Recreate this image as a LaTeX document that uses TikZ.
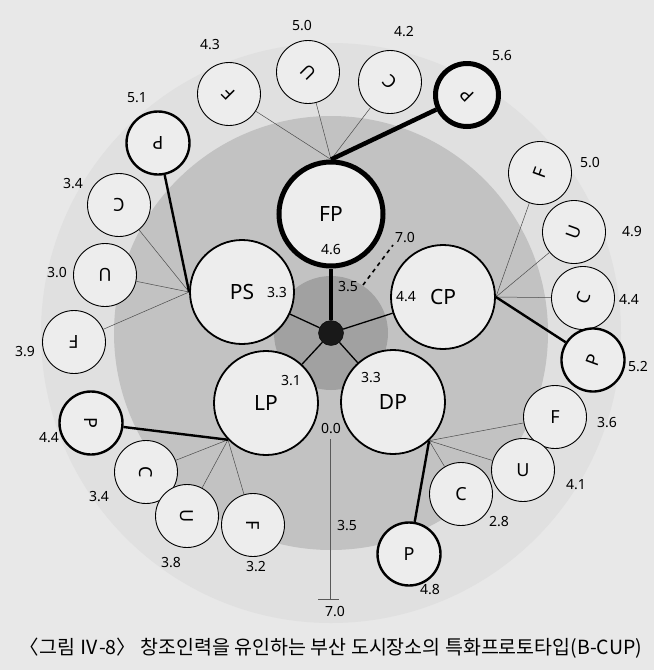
\documentclass[tikz,border=0pt]{standalone}
\usepackage{fontspec}
\setmainfont{Noto Sans}
\newfontfamily\krfont{Noto Sans CJK KR}
\definecolor{paper}{gray}{0.91}
\definecolor{outerring}{gray}{0.88}
\definecolor{midring}{gray}{0.76}
\definecolor{innerring}{gray}{0.63}
\definecolor{nodefill}{gray}{0.93}
\begin{document}
\begin{tikzpicture}[x=1pt, y=-1pt, every node/.style={font=\fontsize{14}{16}\selectfont},
    big/.style={circle, draw, line width=1.8pt, fill=nodefill, minimum size=104pt, inner sep=0pt, font=\fontsize{21}{24}\selectfont},
    small/.style={circle, draw, line width=0.9pt, fill=nodefill, minimum size=63pt, inner sep=0pt, font=\fontsize{18}{20}\selectfont},
    key/.style={small, line width=2.4pt},
    keybold/.style={small, line width=5pt},
    spoke/.style={gray!60!black, line width=0.5pt},
    link/.style={line width=2.4pt}]
    \useasboundingbox[fill=paper] (0,0) rectangle (654,670);
    % rings round the hub
    \fill[outerring] (331,333) circle[radius=290pt];
    \fill[midring] (331,333) circle[radius=217pt];
    \fill[innerring] (331,333) circle[radius=57pt];
    % the five places
    \node[big, line width=5pt] (FP) at (331,214) {FP};
    \node[big] (PS) at (242,292) {PS};
    \node[big] (CP) at (443,297) {CP};
    \node[big] (LP) at (266,403) {LP};
    \node[big] (DP) at (393,402) {DP};
    \node[circle, draw, fill=gray!20!black, minimum size=25pt, inner sep=0pt] (hub) at (331,333) {};
    \draw[line width=4.5pt] (hub) -- (FP);
    \foreach \p in {PS,CP,LP,DP}
        \draw[line width=1.3pt] (hub) -- (\p);
    \node (fpv) at (331,250) {4.6};
    \node (psv) at (277,293) {3.3};
    \node (cpv) at (406,297) {4.4};
    \node (lpv) at (291,381) {3.1};
    \node (dpv) at (371,378) {3.3};
    % where the F, U, C, P circles join
    \coordinate (fpa) at (FP.north);
    \coordinate (psa) at (PS.west);
    \coordinate (cpa) at (CP.east);
    \coordinate (lpa) at (LP.224);
    \coordinate (dpa) at (DP.-47);
    % F, U, C, P circles with their values
    \foreach \n/\s/\x/\y/\t/\r/\v/\vx/\vy in {
        fpF/small/229/94/F/135/4.3/210/45, fpU/small/308/72/U/135/5.0/302/26,
        fpC/small/390/82/C/135/4.2/404/32, fpP/keybold/467/95/P/135/5.6/502/56,
        cpF/small/540/173/F/70/5.0/590/163, cpU/small/574/232/U/70/4.9/632/232,
        cpC/small/583/298/C/70/4.4/629/300, cpP/key/593/360/P/70/5.2/638/367,
        dpF/small/555/417/F/0/3.6/607/423, dpU/small/523/470/U/0/4.1/576/485,
        dpC/small/461/494/C/0/2.8/499/522, dpP/key/409/554/P/0/4.8/430/590,
        lpP/key/91/423/P/-90/4.4/49/438, lpC/small/146/472/C/-90/3.4/99/497,
        lpU/small/187/516/U/-90/3.8/171/563, lpF/small/253/525/F/-90/3.2/256/567,
        psP/key/158/143/P/180/5.1/137/98, psC/small/119/205/C/180/3.4/73/184,
        psU/small/105/275/U/180/3.0/57/273, psF/small/74/342/F/180/3.9/25/352} {
        \node[\s, rotate=\r] (\n) at (\x,\y) {\t};
        \node (\n v) at (\vx,\vy) {\v};
    }
    \foreach \g in {fp,cp,dp,lp,ps} {
        \foreach \k in {F,U,C}
            \draw[spoke] (\g a) -- (\g\k);
    }
    \draw[line width=4.5pt] (fpa) -- (fpP);
    \foreach \g in {cp,dp,lp,ps}
        \draw[link] (\g a) -- (\g P);
    % scale marks
    \coordinate (t35) at (363,285);
    \coordinate (t70) at (393,245);
    \draw[line width=1.6pt, dash pattern=on 4pt off 4pt] (t35) -- (t70);
    \node (t35v) at (348,287) {3.5};
    \node (t70v) at (405,238) {7.0};
    \coordinate (s0) at (330,439);
    \coordinate (s7) at (330,599);
    \draw[gray!70!black, line width=0.8pt] (s0) -- (s7);
    \draw[gray!70!black, line width=0.8pt] ([xshift=-12pt]s7) -- ([xshift=9pt]s7);
    \node (s0v) at (331,429) {0.0};
    \node (s35v) at (347,526) {3.5};
    \node (s7v) at (335,612) {7.0};
    \node[font=\krfont\fontsize{19.5}{22}\selectfont] (caption) at (331,648) {〈그림 Ⅳ-8〉 창조인력을 유인하는 부산 도시장소의 특화프로토타입(B-CUP)};
\end{tikzpicture}
\end{document}
